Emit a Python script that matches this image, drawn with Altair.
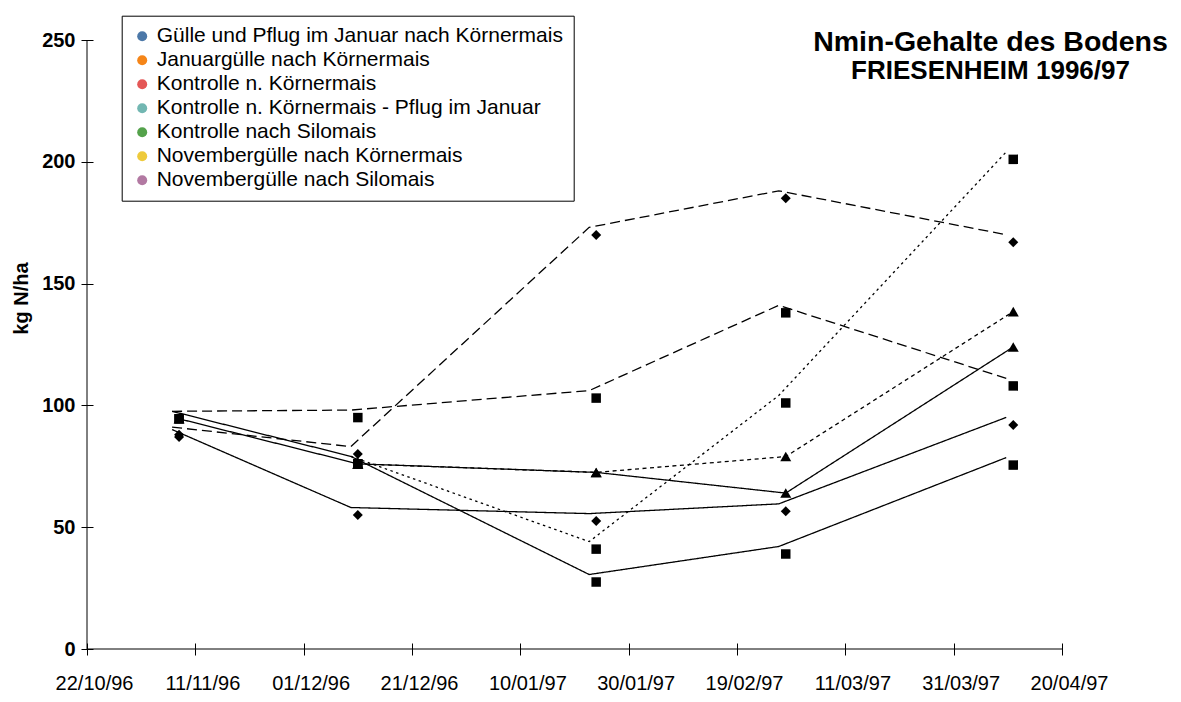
import altair as alt
import pandas as pd

# ---------------- data ----------------
dates = ["1996-11-08", "1996-12-11", "1997-01-24", "1997-02-28", "1997-04-11"]
series_names = [
    "Kontrolle nach Silomais",
    "Novembergülle nach Silomais",
    "Kontrolle n. Körnermais",
    "Novembergülle nach Körnermais",
    "Januargülle nach Körnermais",
    "Kontrolle n. Körnermais - Pflug im Januar",
    "Gülle und Pflug im Januar nach Körnermais",
]
kontrolle_silomais = [87, 55, 52.5, 56.5, 92]
novembergulle_silomais = [88, 80, 170, 185, 167]
kontrolle_koernermais = [94.5, 76, 27.5, 39, 75.5]
novembergulle_koernermais = [94.5, 95, 103, 138, 108]
januargulle_koernermais = [None, 76, 41, 101, 201]
kontrolle_pflug = [94.5, 76, 72.5, 64, 124]
gulle_pflug = [None, 76, 72.5, 79, 138.5]
values_by_series = [kontrolle_silomais, novembergulle_silomais, kontrolle_koernermais,
                    novembergulle_koernermais, januargulle_koernermais, kontrolle_pflug, gulle_pflug]

x_tick_dates = ["1996-10-22", "1996-11-11", "1996-12-01", "1996-12-21", "1997-01-10",
                "1997-01-30", "1997-02-19", "1997-03-11", "1997-03-31", "1997-04-20"]
y_ticks = [0, 50, 100, 150, 200, 250]

markers = ["diamond", "diamond", "square", "square", "square", "triangle-up", "triangle-up"]
kinds = ["shifted"] * 5 + ["plain"] * 2
dashes = [[1, 0], [10, 5], [1, 0], [10, 5], [2.5, 3.5], [1, 0], [4, 3.5]]
FONT = "Liberation Sans"

rows = []
for name, vals, mk, kd in zip(series_names, values_by_series, markers, kinds):
    for d, v in zip(dates, vals):
        if v is not None:
            rows.append({"date": d, "value": v, "series": name, "entry": name, "e2": name,
                         "marker": mk, "kind": kd})
df = pd.DataFrame(rows)


def dt(s):
    y, m, d = (int(p) for p in s.split("-"))
    return alt.DateTime(year=y, month=m, date=d, utc=True)


xscale = alt.Scale(type="utc", domain=[dt(x_tick_dates[0]), dt(x_tick_dates[-1])])
yscale = alt.Scale(domain=[0, 250], nice=False, zero=True)

x_axis = alt.Axis(values=[dt(s) for s in x_tick_dates], format="%d/%m/%y", title=None,
                  labelFont=FONT, labelFontSize=20, labelColor="black", labelOffset=7,
                  labelPadding=18, labelFlush=False, labelOverlap=False,
                  tickSize=12, tickColor="black", tickWidth=1, offset=-6,
                  domain=False, grid=False)
y_axis = alt.Axis(values=y_ticks, title="kg N/ha", titleFont=FONT, titleFontSize=20,
                  titleFontWeight="bold", titleColor="black", titleX=-62, titleY=258,
                  labelFont=FONT, labelFontSize=20, labelFontWeight="bold", labelColor="black",
                  labelPadding=6, tickSize=12, tickColor="black", tickWidth=1, offset=-6,
                  domain=False, grid=False)

x_enc = alt.X("date:T", scale=xscale, axis=x_axis)
y_enc = alt.Y("value:Q", scale=yscale, axis=y_axis)
dash_enc = alt.StrokeDash("series:N", scale=alt.Scale(domain=series_names, range=dashes), legend=None)

base = alt.Chart(df)
one = pd.DataFrame({"a": [0]})

y_line = alt.Chart(one).mark_rule(color="black", strokeWidth=1).encode(
    x=alt.XDatum(dt(x_tick_dates[0]), type="temporal", scale=xscale, axis=x_axis),
    y=alt.YDatum(0, scale=yscale, axis=y_axis),
    y2=alt.Y2Datum(250),
)
x_line = alt.Chart(one).mark_rule(color="black", strokeWidth=1).encode(
    x=alt.XDatum(dt(x_tick_dates[0]), type="temporal", scale=xscale, axis=x_axis),
    x2=alt.X2Datum(dt(x_tick_dates[-1])),
    y=alt.YDatum(0, scale=yscale, axis=y_axis),
)

lines_shifted = base.transform_filter(alt.datum.kind == "shifted").mark_line(
    color="black", strokeWidth=1.3, xOffset=-7, yOffset=-7.5
).encode(x=x_enc, y=y_enc, strokeDash=dash_enc)

lines_plain = base.transform_filter(alt.datum.kind == "plain").mark_line(
    color="black", strokeWidth=1.3
).encode(x=x_enc, y=y_enc, strokeDash=dash_enc)

tri = base.transform_filter(alt.datum.marker == "triangle-up").mark_point(
    shape="triangle-up", filled=True, color="black", opacity=1, size=121
).encode(x=x_enc, y=y_enc)
dia = base.transform_filter(alt.datum.marker == "diamond").mark_point(
    shape="diamond", filled=True, color="black", opacity=1, size=100
).encode(x=x_enc, y=y_enc)
sq = base.transform_filter(alt.datum.marker == "square").mark_point(
    shape="square", filled=True, color="black", opacity=1, size=90
).encode(x=x_enc, y=y_enc)

L0, L1, MC = 3.3, 17.3, 10.3


def seg(a, b):
    return f"M{a:.2f},0L{b:.2f},0"


def dots(a, b, step, length):
    out, p = [], a
    while p < b - 0.05:
        out.append(seg(p, min(p + length, b)))
        p += step
    return "".join(out)


solid = seg(L0, L1)
dashed = seg(L0, 5.6) + seg(15.0, L1)
dotted = dots(L0, 8.8, 1.6, 0.6) + dots(12.0, L1 + 0.1, 1.6, 0.6)
dotted2 = dots(L0, 8.8, 1.5, 0.8) + dots(12.0, L1 + 0.1, 1.5, 0.8)
diamond = f"M{MC},-0.95L{MC + 0.95},0L{MC},0.95L{MC - 0.95},0Z"
square = f"M{MC - 0.9},-0.9L{MC + 0.9},-0.9L{MC + 0.9},0.9L{MC - 0.9},0.9Z"
triangle = f"M{MC},-1.1L{MC + 1.15},0.85L{MC - 1.15},0.85Z"
legend_paths = [solid + diamond, dashed + diamond, solid + square, dashed + square,
                dotted + square, solid + triangle, dotted2 + triangle]

# diagnostic: legend A (custom paths, default orient right)
legend_layer = base.mark_point(filled=True, opacity=0).encode(
    x=x_enc, y=y_enc,
    shape=alt.Shape("entry:N", scale=alt.Scale(domain=series_names, range=legend_paths),
                    legend=alt.Legend(title=None, labelFont=FONT, labelFontSize=12,
                                      symbolSize=64, symbolStrokeColor="black",
                                      symbolFillColor="black", symbolOpacity=1)),
)
# diagnostic: legend B (plain, orient none)
legend_b = base.mark_point(filled=True, opacity=0).encode(
    x=x_enc, y=y_enc,
    color=alt.Color("e2:N", legend=alt.Legend(title=None, orient="none", legendX=34.7,
                                               legendY=-24.3, strokeColor="black",
                                               fillColor="white", padding=10,
                                               labelFont=FONT, labelFontSize=21,
                                               labelLimit=800, symbolOpacity=1)),
)

chart = alt.layer(y_line, x_line, lines_shifted, lines_plain, tri, dia, sq, legend_layer, legend_b).properties(
    width=975, height=609,
    padding={"left": 79, "top": 32, "right": 111, "bottom": 45},
    autosize=alt.AutoSizeParams(type="none"),
    background="white",
    title=alt.TitleParams(text="Nmin-Gehalte des Bodens", subtitle="FRIESENHEIM 1996/97",
                          font=FONT, fontSize=28.5, fontWeight="bold", color="black",
                          subtitleFont=FONT, subtitleFontSize=26, subtitleFontWeight="bold",
                          subtitleColor="black", subtitlePadding=2,
                          anchor="middle", frame="group", dx=416, dy=73),
).configure_view(stroke=None)

chart.save("out.html", embed_options={"renderer": "svg", "actions": False})
